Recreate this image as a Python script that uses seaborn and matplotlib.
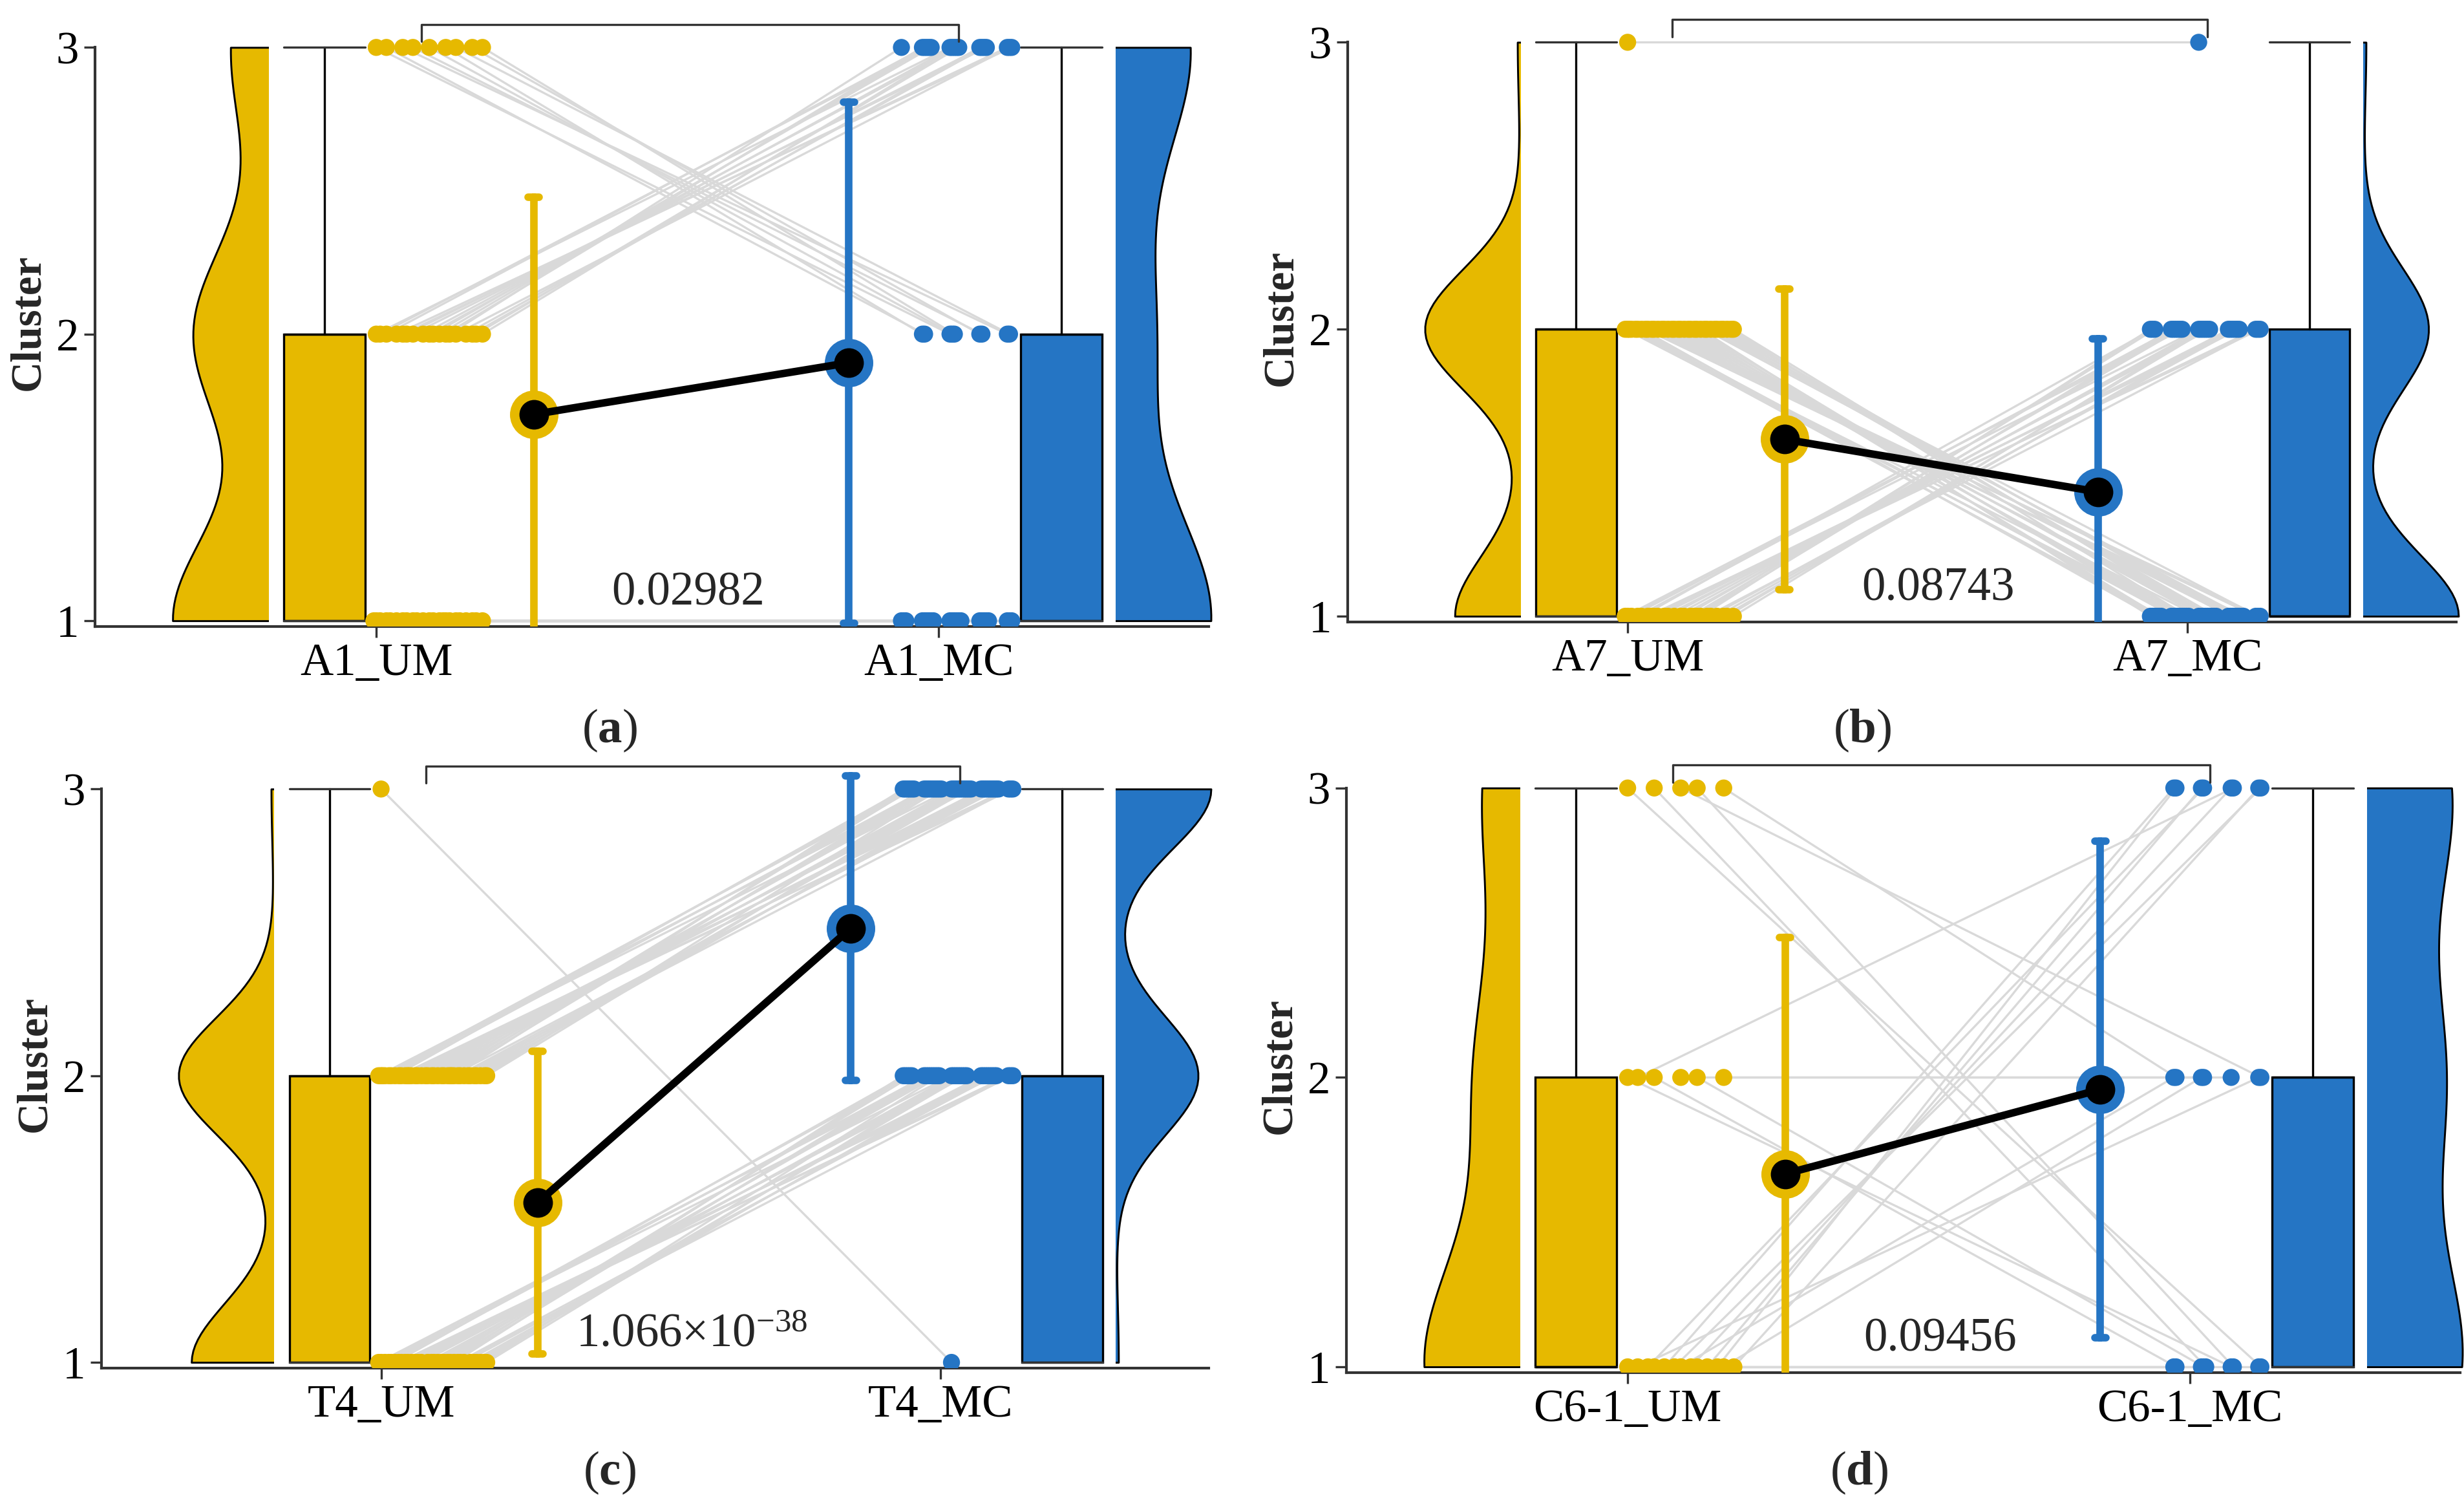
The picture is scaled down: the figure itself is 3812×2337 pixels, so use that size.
import numpy as np
import pandas as pd
import matplotlib
matplotlib.use("Agg")
import matplotlib.pyplot as plt
import seaborn as sns
from matplotlib.patches import Rectangle

# paired cluster changes UM -> MC, one entry per (from, to) with number of samples
a_from = [1, 2, 3]
a_to = [1, 3, 2]
a_n = [23, 18, 9]

b_from = [2, 1, 3]
b_to = [1, 2, 3]
b_n = [35, 24, 1]

c_from = [2, 1, 3]
c_to = [3, 2, 1]
c_n = [37, 32, 1]

d_from = [1, 1, 1, 2, 2, 2, 3, 3]
d_to = [1, 2, 3, 1, 2, 3, 1, 2]
d_n = [3, 3, 7, 3, 2, 1, 3, 2]

group_names = [["A1_UM", "A1_MC"], ["A7_UM", "A7_MC"],
               ["T4_UM", "T4_MC"], ["C6-1_UM", "C6-1_MC"]]
p_labels = ["0.02982", "0.08743", r"1.066$\times$10$^{-38}$", "0.09456"]
captions = ["a", "b", "c", "d"]

# box stats as drawn in the figure: [UM, MC]
box_q1 = [[1, 1], [1, 1], [1, 1], [1, 1]]
box_med = [[2, 2], [2, 1], [2, 2], [1, 2]]
box_q3 = [[2, 2], [2, 2], [2, 2], [2, 2]]
box_lo = [[1, 1], [1, 1], [1, 1], [1, 1]]
box_hi = [[3, 3], [3, 3], [3, 3], [3, 3]]

YELLOW = "#E6B900"
BLUE = "#2575C4"
GREY = "#D9D9D9"
DARK = "#333333"

W, H = 3812, 2337
# axes boxes in pixels (x0, x1, y0, y1)
boxes = [(147, 1870, 29, 969), (2085, 3800, 21, 962),
         (157, 1870, 1176, 2116), (2083, 3806, 1174, 2123)]
cap_pos = [(943, 1130), (2881, 1130), (943, 2278), (2876, 2278)]

sns.set_style("ticks")
plt.rcParams["font.family"] = ["Liberation Serif", "DejaVu Serif"]
plt.rcParams["mathtext.fontset"] = "custom"
plt.rcParams["mathtext.rm"] = "Liberation Serif"
plt.rcParams["mathtext.it"] = "Liberation Serif:italic"
plt.rcParams["mathtext.bf"] = "Liberation Serif:bold"


def spread(values, step, seed):
    # even sideways spread of points sharing a level (no randomness)
    out = np.zeros(len(values))
    for v in np.unique(values):
        m = values == v
        r = np.arange(m.sum())
        out[m] = (r * step + seed) % 1 * 0.2
    return out


def half_violin(ax, pos, values, color, left):
    n_before = len(ax.collections)
    sns.violinplot(x=np.full(len(values), pos), y=values, native_scale=True, orient="x",
                   color=color, saturation=1, inner=None, cut=0, density_norm="width",
                   width=0.34, bw_adjust=0.9, linewidth=0.7, linecolor="black", ax=ax)
    if left:
        clip = Rectangle((pos - 1, 0), 1, 10, transform=ax.transData)
    else:
        clip = Rectangle((pos, 0), 1, 10, transform=ax.transData)
    for coll in ax.collections[n_before:]:
        coll.set_clip_path(clip)
        coll.set_zorder(2)


def draw_panel(ax, frm, to, cnt, names, pval, k):
    um = np.repeat(frm, cnt)
    mc = np.repeat(to, cnt)
    n = len(um)
    idx = np.arange(n)
    df = pd.DataFrame({
        "subject": np.r_[idx, idx],
        "group": [names[0]] * n + [names[1]] * n,
        "value": np.r_[um, mc],
        "xpos": np.r_[0.99 + spread(um, 0.618034, 0.05), 1.93 + spread(mc, 0.754878, 0.45)],
    })

    # paired lines
    sns.lineplot(data=df, x="xpos", y="value", units="subject", estimator=None,
                 color=GREY, linewidth=0.8, ax=ax, zorder=1, legend=False)
    # points
    sns.scatterplot(data=df, x="xpos", y="value", hue="group", palette=[YELLOW, BLUE],
                    s=40, linewidth=0, ax=ax, zorder=3, legend=False)

    # half violins
    half_violin(ax, 0.808, um, YELLOW, left=True)
    half_violin(ax, 2.314, mc, BLUE, left=False)

    # boxes
    for j, (pos, col) in enumerate([(0.908, YELLOW), (2.218, BLUE)]):
        st = [{"q1": box_q1[k][j], "med": box_med[k][j], "q3": box_q3[k][j],
               "whislo": box_lo[k][j], "whishi": box_hi[k][j], "fliers": []}]
        ax.bxp(st, positions=[pos], widths=0.144, capwidths=[0.144], patch_artist=True,
               showfliers=False, manage_ticks=False, zorder=2,
               boxprops=dict(facecolor=col, edgecolor="black", linewidth=0.8),
               whiskerprops=dict(color="black", linewidth=0.8),
               capprops=dict(color=DARK, linewidth=0.8),
               medianprops=dict(color="black", linewidth=0.8))

    # mean +/- sd
    mdf = pd.DataFrame({
        "pos": np.r_[np.full(n, 1.28), np.full(n, 1.84)],
        "value": np.r_[um, mc],
        "group": [names[0]] * n + [names[1]] * n,
    })
    sns.pointplot(data=mdf, x="pos", y="value", hue="group", palette=[YELLOW, BLUE],
                  native_scale=True, errorbar="sd", capsize=0.035, linestyle="none",
                  markers="o", markersize=18, markeredgewidth=0,
                  err_kws={"linewidth": 2.8, "zorder": 5}, legend=False, ax=ax, zorder=6)
    sns.pointplot(data=mdf, x="pos", y="value", native_scale=True, errorbar=None,
                  color="black", markers="o", markersize=11, markeredgewidth=0,
                  linewidth=2.8, ax=ax, zorder=7)

    # bracket and p-value
    ax.plot([1.08, 1.08, 2.035, 2.035], [3.02, 3.08, 3.08, 3.02], color=DARK,
            linewidth=0.8, clip_on=False, zorder=4)
    ax.text(1.555, 1.095, pval, ha="center", va="center", fontsize=17.5, zorder=8)

    ax.set_xlim(0.5, 2.48)
    ax.set_ylim(0.98, 3.1)
    ax.set_xticks([1, 2])
    ax.set_xticklabels(names)
    ax.set_yticks([1, 2, 3])
    ax.set_xlabel("")
    ax.set_ylabel("Cluster", fontsize=16, fontweight="bold", labelpad=3)
    ax.tick_params(labelsize=17, length=4, width=0.8, pad=2, color=DARK, labelcolor="black")
    sns.despine(ax=ax)
    ax.spines["left"].set_bounds(0.98, 3)
    for sp in ["left", "bottom"]:
        ax.spines[sp].set_color(DARK)
        ax.spines[sp].set_linewidth(1.0)


fig = plt.figure(figsize=(W / 300, H / 300), dpi=300)
panels = [(a_from, a_to, a_n), (b_from, b_to, b_n), (c_from, c_to, c_n), (d_from, d_to, d_n)]
for k, (frm, to, cnt) in enumerate(panels):
    x0, x1, y0, y1 = boxes[k]
    ax = fig.add_axes([x0 / W, 1 - y1 / H, (x1 - x0) / W, (y1 - y0) / H])
    draw_panel(ax, frm, to, cnt, group_names[k], p_labels[k], k)
    cx, cy = cap_pos[k]
    fig.text(cx / W, 1 - cy / H, "(" + r"$\mathbf{" + captions[k] + "}$" + ")",
             ha="center", va="center", fontsize=18)

fig.savefig("out.png", dpi=300)
